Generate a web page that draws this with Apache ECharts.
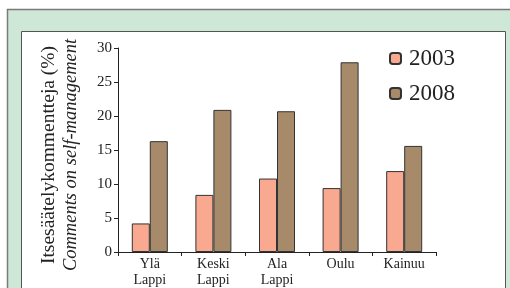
<!DOCTYPE html>
<html>
<head>
<meta charset="utf-8">
<script src="https://cdn.jsdelivr.net/npm/echarts@6/dist/echarts.min.js"></script>
<style>
  html, body { margin: 0; padding: 0; background: #fff; }
  #chart { width: 510px; height: 288px; }
</style>
</head>
<body>
<div id="chart"></div>
<script>
'use strict';
// regions along the x axis
const regions = ['Ylä\nLappi', 'Keski\nLappi', 'Ala\nLappi', 'Oulu', 'Kainuu'];
// share of self-management comments (%)
const values2003 = [4.2, 8.4, 10.8, 9.4, 11.9];
const values2008 = [16.3, 20.9, 20.7, 27.9, 15.6];
const yTicks = [0, 5, 10, 15, 20, 25, 30];

const serif = 'Liberation Serif';
var myChart = echarts.init(document.getElementById('chart'));

var option = {
  animation: false,
  textStyle: { fontFamily: serif },
  graphic: [
    // green frame and white panel
    { type: 'rect', z: -10, shape: { x: 7.5, y: 9.5, width: 520, height: 300 },
      style: { fill: '#cfe7d7', stroke: '#7a7a7a', lineWidth: 1.5 } },
    { type: 'rect', z: -9, shape: { x: 21.5, y: 31.5, width: 484, height: 280 },
      style: { fill: '#ffffff', stroke: '#555', lineWidth: 1 } }
  ],
  grid: { left: 118, top: 48, right: 74, bottom: 35 },
  legend: {
    orient: 'vertical',
    left: 389, top: 47, padding: 0,
    itemWidth: 11, itemHeight: 11, itemGap: 12,
    textStyle: { fontFamily: serif, fontSize: 23, color: '#222', padding: [0, 0, 0, 3] },
    data: ['2003', '2008']
  },
  xAxis: {
    type: 'category',
    data: regions,
    axisLine: { lineStyle: { color: '#222', width: 1 } },
    axisTick: { show: true, length: 4, lineStyle: { color: '#222' } },
    axisLabel: { color: '#222', fontSize: 14, lineHeight: 16, margin: 4, fontFamily: serif }
  },
  yAxis: {
    type: 'value',
    min: 0, max: 30, interval: 5,
    splitLine: { show: false },
    axisLine: { show: true, lineStyle: { color: '#222', width: 1 } },
    axisTick: { show: true, length: 4, lineStyle: { color: '#222' } },
    axisLabel: {
      color: '#222', fontSize: 15, margin: 6, fontFamily: serif,
      formatter: function (v) { return yTicks.indexOf(v) >= 0 ? String(v) : ''; }
    },
    name: '{a|Itsesäätelykommentteja (%)}\n{b|Comments on self-management}',
    nameLocation: 'middle',
    nameRotate: 90,
    nameGap: 36,
    nameTextStyle: {
      padding: [0, 10, 0, 0],
      rich: {
        a: { fontFamily: serif, fontSize: 19.5, color: '#222', lineHeight: 22 },
        b: { fontFamily: serif, fontSize: 18.5, color: '#222', lineHeight: 22, fontStyle: 'italic' }
      }
    }
  },
  series: [
    {
      name: '2003', type: 'bar', data: values2003,
      barWidth: 18, barGap: '0%',
      itemStyle: { color: '#f8a98f', borderColor: '#333', borderWidth: 1 }
    },
    {
      name: '2008', type: 'bar', data: values2008,
      barWidth: 18,
      itemStyle: { color: '#a68a6a', borderColor: '#333', borderWidth: 1 }
    }
  ]
};

myChart.setOption(option);
</script>
</body>
</html>
